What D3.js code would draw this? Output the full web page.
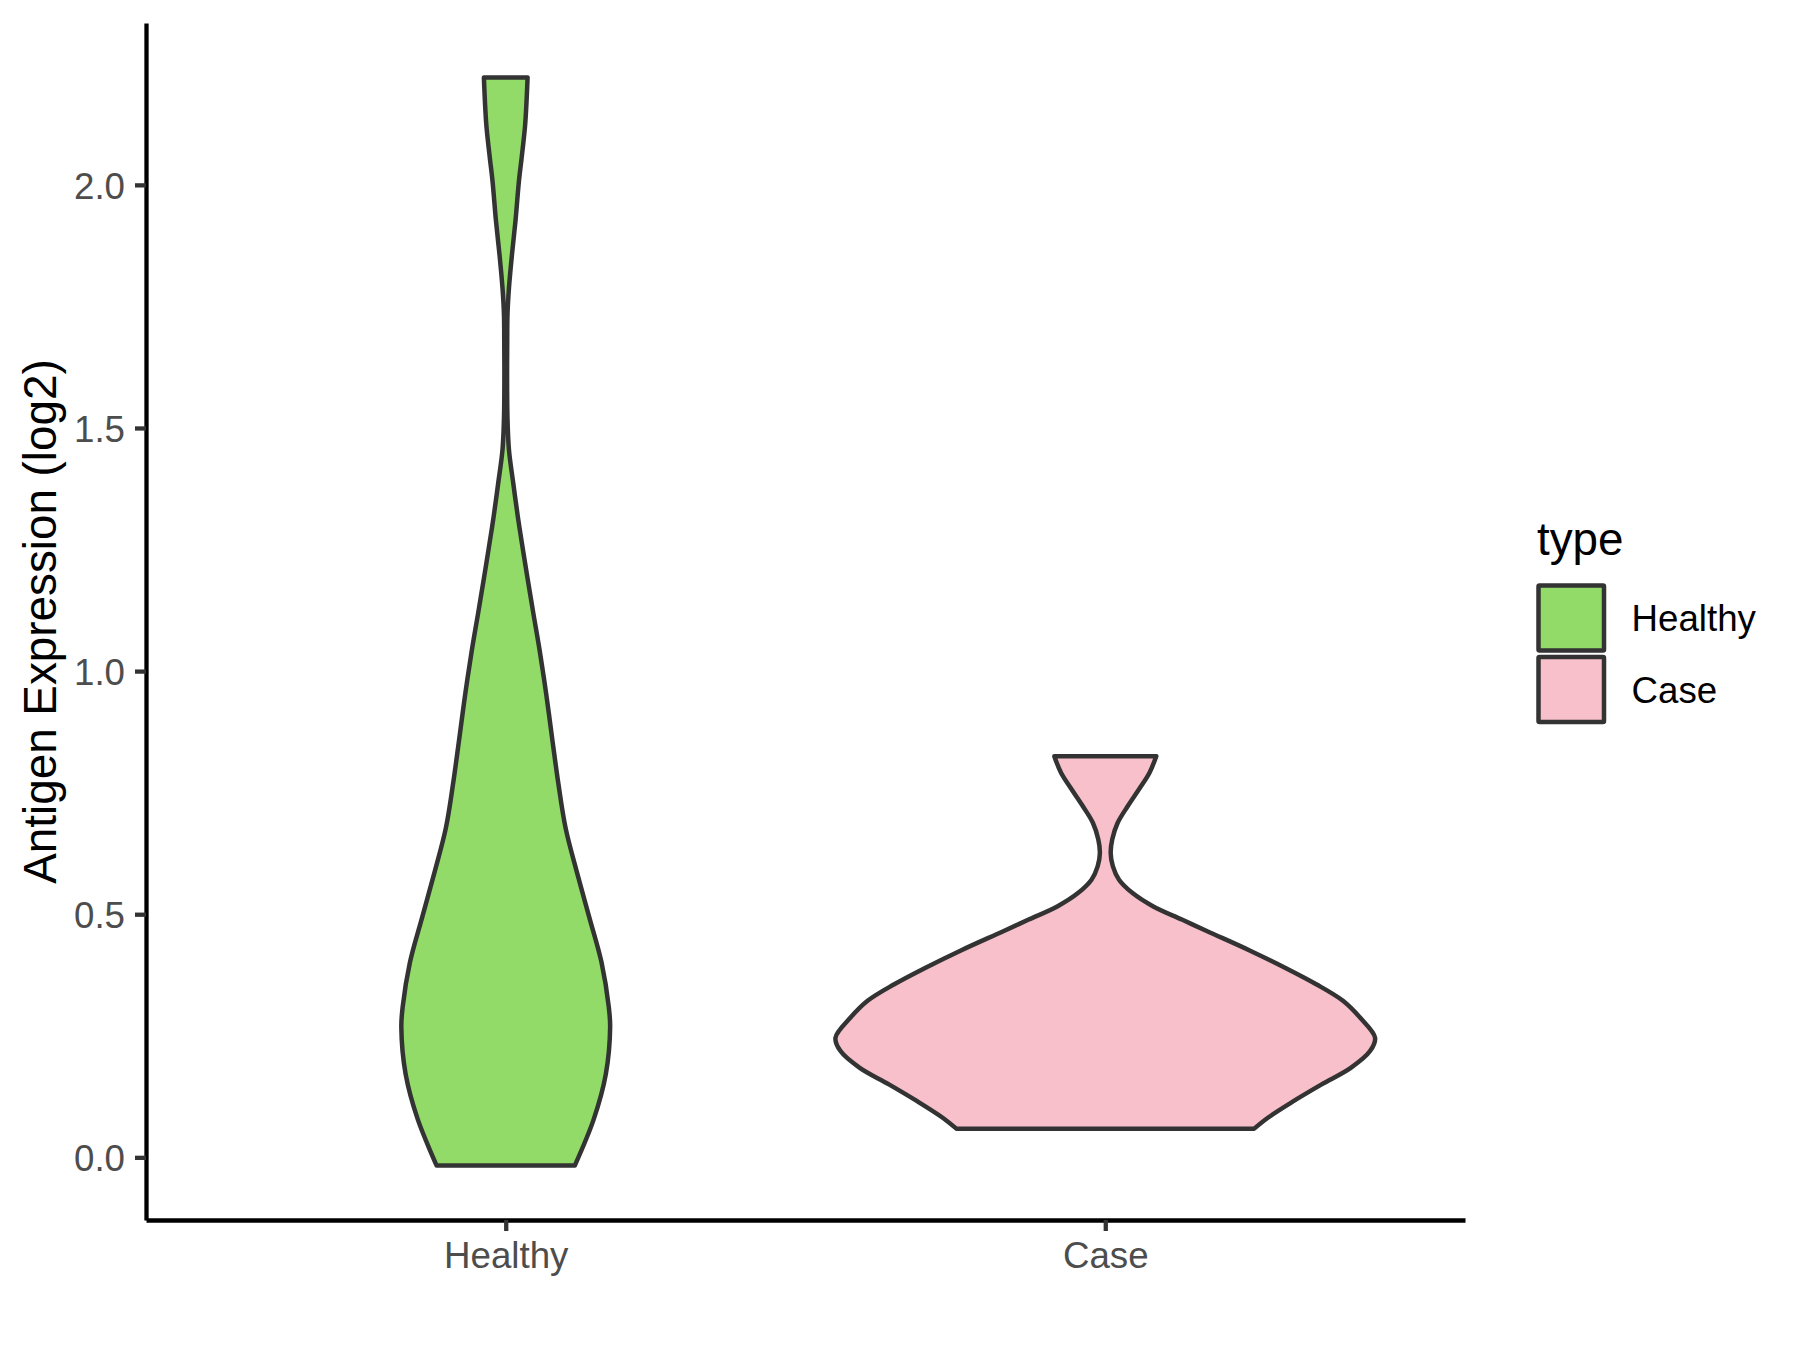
<!DOCTYPE html>
<html>
<head>
<meta charset="utf-8">
<script src="https://cdn.jsdelivr.net/npm/d3@7"></script>
<style>
body { margin: 0; background: #fff; }
text { font-family: "Liberation Sans", Arial, sans-serif; }
</style>
</head>
<body>
<div id="chart"></div>
<script>
// data
const categories = ["Healthy", "Case"]
const fills = ["#93DB69", "#F8C0CB"]

// violin outlines: expression value and relative density (half width)
const healthyValue = [-0.017, 0.078, 0.171, 0.268, 0.309, 0.401, 0.493, 0.586, 0.677, 0.769,
  0.862, 0.953, 1.045, 1.12, 1.194, 1.249, 1.317, 1.386, 1.455, 1.52,
  1.60, 1.68, 1.733, 1.788, 1.856, 1.925, 2.008, 2.056, 2.124, 2.221]
const healthyDensity = [0.256, 0.326, 0.371, 0.387, 0.382, 0.355, 0.310, 0.264, 0.222, 0.195,
  0.172, 0.150, 0.125, 0.102, 0.080, 0.064, 0.045, 0.028, 0.012, 0.0065,
  0.005, 0.0055, 0.0065, 0.012, 0.023, 0.036, 0.049, 0.059, 0.072, 0.081]

const caseValue = [0.059, 0.082, 0.116, 0.150, 0.184, 0.219, 0.246, 0.287, 0.322, 0.356,
  0.390, 0.425, 0.465, 0.489, 0.516, 0.544, 0.571, 0.599, 0.626, 0.654,
  0.688, 0.722, 0.757, 0.791, 0.825]
const caseDensity = [0.552, 0.604, 0.699, 0.802, 0.910, 0.982, 1.0, 0.945, 0.881, 0.782,
  0.666, 0.537, 0.378, 0.284, 0.178, 0.100, 0.051, 0.028, 0.020, 0.026,
  0.046, 0.083, 0.125, 0.164, 0.189]

const yTicks = [0, 0.5, 1, 1.5, 2]
const yTitle = "Antigen Expression (log2)"
const legendTitle = "type"

// const
const width = 1800
const height = 1350
const margin = {
  top: 23,
  bottom: 130,
  left: 146,
  right: 335
}

const violins = [
  { name: categories[0], fill: fills[0], pts: healthyValue.map((v, i) => ({ v: v, d: healthyDensity[i] })) },
  { name: categories[1], fill: fills[1], pts: caseValue.map((v, i) => ({ v: v, d: caseDensity[i] })) }
]

// svg
const svg = d3.select("#chart")
  .append("svg")
    .attr("width", width)
    .attr("height", height)
    .style("background", "#fff")

// scales
const x = d3.scalePoint()
  .domain(categories)
  .range([margin.left, width - margin.right])
  .padding(0.6)

const allValues = healthyValue.concat(caseValue)
const [lo, hi] = d3.extent(allValues)
const pad = (hi - lo) * 0.05
const y = d3.scaleLinear()
  .domain([lo - pad, hi + pad])
  .range([height - margin.bottom, margin.top])

const w = d3.scaleLinear()
  .domain([0, d3.max(healthyDensity.concat(caseDensity))])
  .range([0, x.step() * 0.45])

// violins
const elementGroup = svg.append("g").attr("id", "elementGroup")

violins.forEach(vi => {
  const cx = x(vi.name)
  const area = d3.area()
    .curve(d3.curveCatmullRom.alpha(0.5))
    .y(d => y(d.v))
    .x0(d => cx - w(d.d))
    .x1(d => cx + w(d.d))
  elementGroup.append("path")
    .datum(vi.pts)
    .attr("d", area)
    .attr("fill", vi.fill)
    .attr("stroke", "#333333")
    .attr("stroke-width", 4.5)
    .attr("stroke-linejoin", "round")
})

// axes
const axisGroup = svg.append("g").attr("id", "axisGroup")

const yAxisGroup = axisGroup.append("g")
  .attr("transform", `translate(${margin.left},0)`)
  .call(d3.axisLeft(y)
    .tickValues(yTicks)
    .tickFormat(d3.format(".1f"))
    .tickSize(11)
    .tickPadding(10)
    .tickSizeOuter(0))

const xAxisGroup = axisGroup.append("g")
  .attr("transform", `translate(0,${height - margin.bottom})`)
  .call(d3.axisBottom(x)
    .tickSize(11)
    .tickPadding(11)
    .tickSizeOuter(0))

axisGroup.selectAll(".domain")
  .attr("stroke", "#000")
  .attr("stroke-width", 4.3)
axisGroup.selectAll(".tick line")
  .attr("stroke", "#333333")
  .attr("stroke-width", 4.3)
axisGroup.selectAll("g").attr("font-family", null).attr("font-size", null)
axisGroup.selectAll(".tick text")
  .attr("fill", "#4D4D4D")
  .style("font-size", "36.7px")
yAxisGroup.selectAll(".tick text").attr("dy", "0.36em")

// y title
svg.append("text")
  .attr("transform", `translate(56,${(margin.top + height - margin.bottom) / 2}) rotate(-90)`)
  .attr("text-anchor", "middle")
  .style("font-size", "45.8px")
  .attr("fill", "#000")
  .text(yTitle)

// legend
const legend = svg.append("g").attr("id", "legend")
legend.append("text")
  .attr("x", 1537)
  .attr("y", 555)
  .style("font-size", "45.8px")
  .attr("fill", "#000")
  .text(legendTitle)

const keys = legend.selectAll(".key")
  .data(violins)
  .enter().append("g")
    .attr("class", "key")
    .attr("transform", (d, i) => `translate(1538.5,${585.5 + i * 71.5})`)

keys.append("rect")
  .attr("width", 65.5)
  .attr("height", 65)
  .attr("fill", d => d.fill)
  .attr("stroke", "#333333")
  .attr("stroke-width", 4.5)
  .attr("rx", 1)

keys.append("text")
  .attr("x", 93)
  .attr("y", 32.5)
  .attr("dy", "0.36em")
  .style("font-size", "36.7px")
  .attr("fill", "#000")
  .text(d => d.name)
</script>
</body>
</html>
